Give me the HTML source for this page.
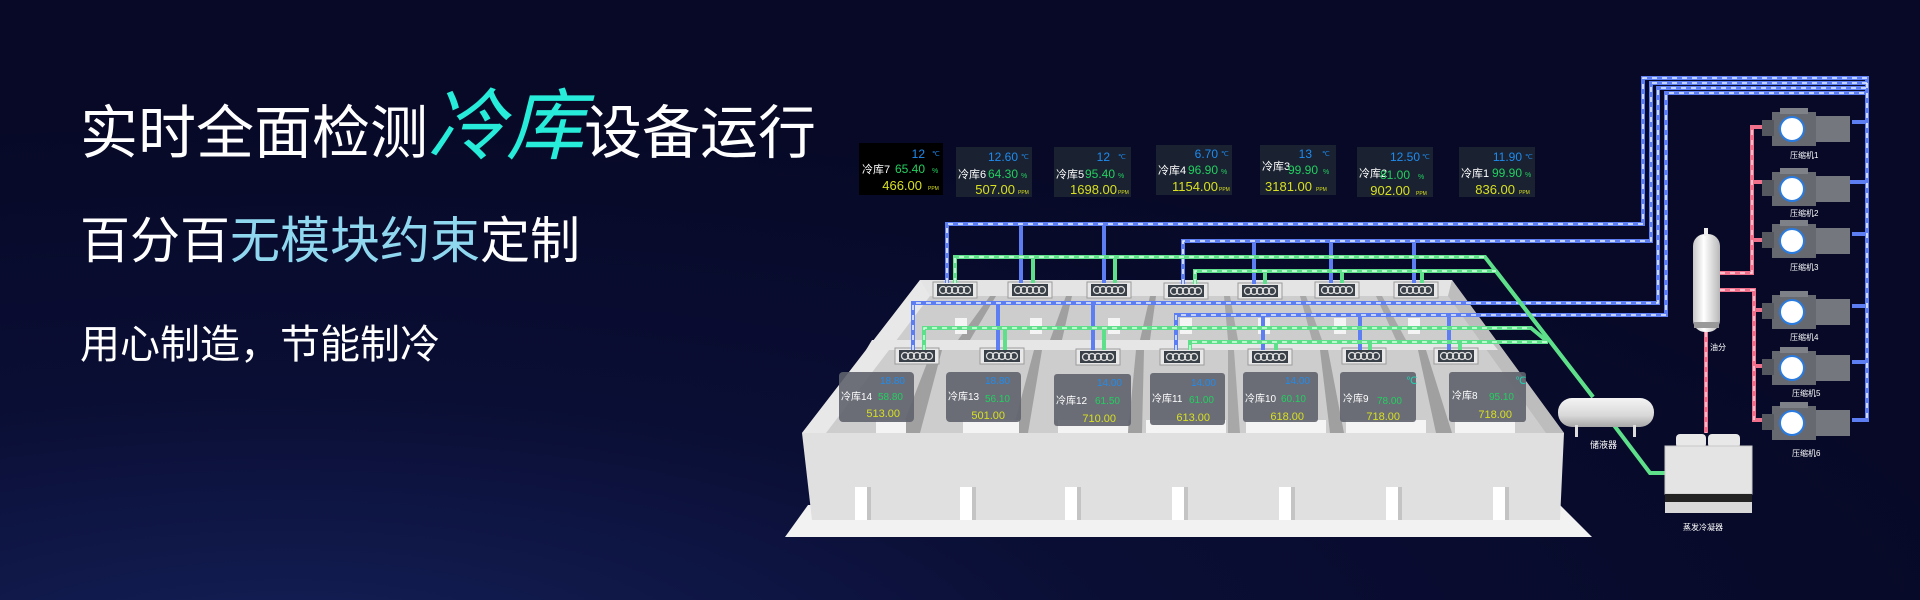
<!DOCTYPE html>
<html><head><meta charset="utf-8"><style>
html,body{margin:0;padding:0;width:1920px;height:600px;overflow:hidden;background:#080a2a;}
svg{display:block}
.t{font-family:"Liberation Sans","Noto Sans CJK SC",sans-serif;}
.m{font-family:"Liberation Sans Narrow","Liberation Sans",sans-serif;}
</style></head><body>
<svg width="1920" height="600" viewBox="0 0 1920 600" xmlns="http://www.w3.org/2000/svg">
<defs>
<radialGradient id="bg" cx="0.15" cy="1.1" r="0.9">
<stop offset="0" stop-color="#142058"/><stop offset="0.5" stop-color="#0a0e34"/><stop offset="1" stop-color="#070927"/>
</radialGradient>
<linearGradient id="tank" x1="0" y1="0" x2="0" y2="1"><stop offset="0" stop-color="#f4f4f4"/><stop offset="0.6" stop-color="#d8d8d8"/><stop offset="1" stop-color="#a8a8a8"/></linearGradient>
<linearGradient id="vtank" x1="0" y1="0" x2="1" y2="0"><stop offset="0" stop-color="#c8c8c8"/><stop offset="0.4" stop-color="#ffffff"/><stop offset="1" stop-color="#b8b8b8"/></linearGradient>
<g id="unit"><rect x="-22" y="-8" width="44" height="16" fill="#e8e8e8" stroke="#9a9a9a"/><rect x="-18" y="-6" width="36" height="12" fill="#3a4048"/>
<circle cx="-12" cy="0" r="3.5" fill="none" stroke="#ddd" stroke-width="1.3"/><circle cx="-6" cy="0" r="3.5" fill="none" stroke="#ddd" stroke-width="1.3"/><circle cx="0" cy="0" r="3.5" fill="none" stroke="#ddd" stroke-width="1.3"/><circle cx="6" cy="0" r="3.5" fill="none" stroke="#ddd" stroke-width="1.3"/><circle cx="12" cy="0" r="3.5" fill="none" stroke="#ddd" stroke-width="1.3"/></g>
<g id="comp"><rect x="-20" y="-16" width="44" height="34" fill="#66696f"/><rect x="24" y="-12" width="34" height="26" fill="#74777d"/><rect x="-30" y="-8" width="12" height="16" fill="#55585e"/><rect x="-12" y="-20" width="28" height="6" fill="#7e8188"/><circle cx="0" cy="1" r="12" fill="#ffffff" stroke="#2a7be0" stroke-width="2"/></g>
</defs>
<rect width="1920" height="600" fill="url(#bg)"/>

<!-- Title text -->
<text class="t" x="80" y="153" font-size="58" fill="#ffffff">实时全面检测<tspan fill="#26ecd9" font-size="78" font-style="italic">冷库</tspan>设备运行</text>
<text class="t" x="80" y="258" font-size="50" fill="#ffffff">百分百<tspan fill="#8fd6ef">无模块约束</tspan>定制</text>
<text class="t" x="80" y="358" font-size="40" fill="#ffffff">用心制造，节能制冷</text>

<!-- Top monitor panels -->
<g class="m">
<rect x="859" y="143" width="84" height="52" fill="#000"/>
<text class="t" x="862" y="173" font-size="11" fill="#fff">冷库7</text>
<text x="925" y="158" font-size="12" fill="#1e8cf0" text-anchor="end">12</text><text x="932" y="156" font-size="7" fill="#1e8cf0">℃</text>
<text x="925" y="173" font-size="12" fill="#22d060" text-anchor="end">65.40</text><text x="932" y="173" font-size="7" fill="#22d060">%</text>
<text x="922" y="190" font-size="13" fill="#d8e020" text-anchor="end">466.00</text><text x="928" y="190" font-size="5" fill="#d8e020">PPM</text>
</g>
<g class="m">
<rect x="956" y="147" width="76" height="50" fill="#1a2130"/>
<text class="t" x="958" y="178" font-size="11" fill="#fff">冷库6</text>
<text x="1018" y="161" font-size="12" fill="#1e8cf0" text-anchor="end">12.60</text><text x="1021" y="159" font-size="7" fill="#1e8cf0">℃</text>
<text x="1018" y="178" font-size="12" fill="#22d060" text-anchor="end">64.30</text><text x="1021" y="178" font-size="7" fill="#22d060">%</text>
<text x="1015" y="194" font-size="13" fill="#d8e020" text-anchor="end">507.00</text><text x="1018" y="194" font-size="5" fill="#d8e020">PPM</text>
</g>
<g class="m">
<rect x="1054" y="147" width="77" height="50" fill="#1a2130"/>
<text class="t" x="1056" y="178" font-size="11" fill="#fff">冷库5</text>
<text x="1110" y="161" font-size="12" fill="#1e8cf0" text-anchor="end">12</text><text x="1118" y="159" font-size="7" fill="#1e8cf0">℃</text>
<text x="1115" y="178" font-size="12" fill="#22d060" text-anchor="end">95.40</text><text x="1118" y="178" font-size="7" fill="#22d060">%</text>
<text x="1117" y="194" font-size="13" fill="#d8e020" text-anchor="end">1698.00</text><text x="1118" y="194" font-size="5" fill="#d8e020">PPM</text>
</g>
<g class="m">
<rect x="1156" y="145" width="76" height="50" fill="#1a2130"/>
<text class="t" x="1158" y="174" font-size="11" fill="#fff">冷库4</text>
<text x="1218" y="158" font-size="12" fill="#1e8cf0" text-anchor="end">6.70</text><text x="1221" y="156" font-size="7" fill="#1e8cf0">℃</text>
<text x="1218" y="174" font-size="12" fill="#22d060" text-anchor="end">96.90</text><text x="1221" y="174" font-size="7" fill="#22d060">%</text>
<text x="1218" y="191" font-size="13" fill="#d8e020" text-anchor="end">1154.00</text><text x="1219" y="191" font-size="5" fill="#d8e020">PPM</text>
</g>
<g class="m">
<rect x="1260" y="145" width="76" height="50" fill="#1a2130"/>
<text class="t" x="1262" y="170" font-size="11" fill="#fff">冷库3</text>
<text x="1312" y="158" font-size="12" fill="#1e8cf0" text-anchor="end">13</text><text x="1322" y="156" font-size="7" fill="#1e8cf0">℃</text>
<text x="1318" y="174" font-size="12" fill="#22d060" text-anchor="end">99.90</text><text x="1323" y="174" font-size="7" fill="#22d060">%</text>
<text x="1312" y="191" font-size="13" fill="#d8e020" text-anchor="end">3181.00</text><text x="1316" y="191" font-size="5" fill="#d8e020">PPM</text>
</g>
<g class="m">
<rect x="1357" y="147" width="76" height="50" fill="#1a2130"/>
<text class="t" x="1359" y="177" font-size="11" fill="#fff">冷库2</text>
<text x="1420" y="161" font-size="12" fill="#1e8cf0" text-anchor="end">12.50</text><text x="1422" y="159" font-size="7" fill="#1e8cf0">℃</text>
<text x="1410" y="179" font-size="12" fill="#22d060" text-anchor="end">81.00</text><text x="1418" y="179" font-size="7" fill="#22d060">%</text>
<text x="1410" y="195" font-size="13" fill="#d8e020" text-anchor="end">902.00</text><text x="1416" y="195" font-size="5" fill="#d8e020">PPM</text>
</g>
<g class="m">
<rect x="1459" y="147" width="76" height="50" fill="#1a2130"/>
<text class="t" x="1461" y="177" font-size="11" fill="#fff">冷库1</text>
<text x="1522" y="161" font-size="12" fill="#1e8cf0" text-anchor="end">11.90</text><text x="1525" y="159" font-size="7" fill="#1e8cf0">℃</text>
<text x="1522" y="177" font-size="12" fill="#22d060" text-anchor="end">99.90</text><text x="1525" y="177" font-size="7" fill="#22d060">%</text>
<text x="1515" y="194" font-size="13" fill="#d8e020" text-anchor="end">836.00</text><text x="1519" y="194" font-size="5" fill="#d8e020">PPM</text>
</g>

<!-- Building -->
<polygon points="808,505 1560,505 1592,537 785,537" fill="#f2f2f2"/>
<polygon points="920,280 1452,280 1564,433 802,433" fill="#cdcdcd"/>
<polygon points="920,280 1452,280 1448,296 924,296" fill="#e4e4e4"/>
<polygon points="920,280 930,296 826,433 802,433" fill="#e8e8e8"/>
<polygon points="1452,280 1448,296 1546,433 1564,433" fill="#bdbdbd"/>
<polygon points="990,296 996,296 970,340 958,340" fill="#a0a0a0"/>
<polygon points="1066,296 1072,296 1062,340 1050,340" fill="#a0a0a0"/>
<polygon points="1150,296 1156,296 1150,340 1140,340" fill="#a0a0a0"/>
<polygon points="1224,296 1230,296 1238,340 1228,340" fill="#a8a8a8"/>
<polygon points="1300,296 1306,296 1322,340 1312,340" fill="#a8a8a8"/>
<polygon points="1376,296 1382,296 1406,340 1396,340" fill="#a8a8a8"/>
<rect x="955" y="318" width="12" height="16" fill="#f4f4f4"/><rect x="1030" y="318" width="12" height="16" fill="#f4f4f4"/><rect x="1108" y="318" width="12" height="16" fill="#f4f4f4"/><rect x="1180" y="318" width="12" height="16" fill="#f4f4f4"/><rect x="1258" y="318" width="12" height="16" fill="#f4f4f4"/><rect x="1334" y="318" width="12" height="16" fill="#f4f4f4"/><rect x="1408" y="318" width="12" height="16" fill="#f4f4f4"/>
<polygon points="872,340 1490,340 1498,350 866,350" fill="#e6e6e6"/>
<polygon points="932,350 942,350 920,433 900,433" fill="#a0a0a0"/>
<polygon points="1034,350 1042,350 1028,433 1012,433" fill="#a0a0a0"/>
<polygon points="1136,350 1144,350 1142,433 1128,433" fill="#a0a0a0"/>
<polygon points="1228,350 1234,350 1240,433 1228,433" fill="#a8a8a8"/>
<polygon points="1320,350 1328,350 1344,433 1330,433" fill="#a0a0a0"/>
<polygon points="1418,350 1426,350 1452,433 1436,433" fill="#a0a0a0"/>
<rect x="876" y="420" width="30" height="13" fill="#f4f4f4"/><rect x="963" y="420" width="56" height="13" fill="#f4f4f4"/><rect x="1058" y="420" width="70" height="13" fill="#f4f4f4"/><rect x="1146" y="420" width="80" height="13" fill="#f4f4f4"/><rect x="1246" y="420" width="80" height="13" fill="#f4f4f4"/><rect x="1346" y="420" width="80" height="13" fill="#f4f4f4"/><rect x="1455" y="420" width="60" height="13" fill="#f4f4f4"/>
<polygon points="802,433 1564,433 1560,520 812,520" fill="#e0e0e0"/>
<g fill="#ffffff"><rect x="855" y="487" width="12" height="33"/><rect x="960" y="487" width="12" height="33"/><rect x="1065" y="487" width="12" height="33"/><rect x="1172" y="487" width="12" height="33"/><rect x="1279" y="487" width="12" height="33"/><rect x="1386" y="487" width="12" height="33"/><rect x="1493" y="487" width="12" height="33"/></g>
<g fill="#c4c4c4"><rect x="867" y="487" width="4" height="33"/><rect x="972" y="487" width="4" height="33"/><rect x="1077" y="487" width="4" height="33"/><rect x="1184" y="487" width="4" height="33"/><rect x="1291" y="487" width="4" height="33"/><rect x="1398" y="487" width="4" height="33"/><rect x="1505" y="487" width="4" height="33"/></g>

<use href="#unit" x="955" y="290"/><use href="#unit" x="1030" y="290"/><use href="#unit" x="1109" y="290"/><use href="#unit" x="1186" y="291"/><use href="#unit" x="1260" y="291"/><use href="#unit" x="1337" y="290"/><use href="#unit" x="1416" y="290"/>
<use href="#unit" x="917" y="356"/><use href="#unit" x="1002" y="356"/><use href="#unit" x="1098" y="357"/><use href="#unit" x="1182" y="357"/><use href="#unit" x="1270" y="357"/><use href="#unit" x="1364" y="356"/><use href="#unit" x="1456" y="356"/>

<!-- front panels -->
<g class="m">
<rect x="839" y="372" width="75" height="50" rx="4" fill="#5f636d" opacity="0.9"/>
<text class="t" x="841" y="400" font-size="10" fill="#fff">冷库14</text><text x="905" y="384" font-size="10" fill="#1e8cf0" text-anchor="end">18.80</text><text x="903" y="400" font-size="10" fill="#22d060" text-anchor="end">58.80</text><text x="900" y="417" font-size="11" fill="#d8e020" text-anchor="end">513.00</text>
<rect x="946" y="372" width="75" height="50" rx="4" fill="#5f636d" opacity="0.9"/>
<text class="t" x="948" y="400" font-size="10" fill="#fff">冷库13</text><text x="1010" y="384" font-size="10" fill="#1e8cf0" text-anchor="end">18.80</text><text x="1010" y="402" font-size="10" fill="#22d060" text-anchor="end">56.10</text><text x="1005" y="419" font-size="11" fill="#d8e020" text-anchor="end">501.00</text>
<rect x="1054" y="374" width="77" height="52" rx="3" fill="#5f636d" opacity="0.9"/>
<text class="t" x="1056" y="404" font-size="10" fill="#fff">冷库12</text><text x="1122" y="386" font-size="10" fill="#1e8cf0" text-anchor="end">14.00</text><text x="1120" y="404" font-size="10" fill="#22d060" text-anchor="end">61.50</text><text x="1116" y="422" font-size="11" fill="#d8e020" text-anchor="end">710.00</text>
<rect x="1150" y="373" width="75" height="52" rx="3" fill="#5f636d" opacity="0.9"/>
<text class="t" x="1152" y="402" font-size="10" fill="#fff">冷库11</text><text x="1216" y="386" font-size="10" fill="#1e8cf0" text-anchor="end">14.00</text><text x="1214" y="403" font-size="10" fill="#22d060" text-anchor="end">61.00</text><text x="1210" y="421" font-size="11" fill="#d8e020" text-anchor="end">613.00</text>
<rect x="1243" y="372" width="75" height="50" rx="3" fill="#5f636d" opacity="0.9"/>
<text class="t" x="1245" y="402" font-size="10" fill="#fff">冷库10</text><text x="1310" y="384" font-size="10" fill="#1e8cf0" text-anchor="end">14.00</text><text x="1306" y="402" font-size="10" fill="#22d060" text-anchor="end">60.10</text><text x="1304" y="420" font-size="11" fill="#d8e020" text-anchor="end">618.00</text>
<rect x="1340" y="372" width="76" height="50" rx="3" fill="#5f636d" opacity="0.9"/>
<text class="t" x="1343" y="402" font-size="10" fill="#fff">冷库9</text><text x="1406" y="384" font-size="10" fill="#22d0b0">℃</text><text x="1402" y="404" font-size="10" fill="#22d060" text-anchor="end">78.00</text><text x="1400" y="420" font-size="11" fill="#d8e020" text-anchor="end">718.00</text>
<rect x="1449" y="372" width="77" height="50" rx="3" fill="#5f636d" opacity="0.9"/>
<text class="t" x="1452" y="399" font-size="10" fill="#fff">冷库8</text><text x="1515" y="384" font-size="10" fill="#22d0b0">℃</text><text x="1514" y="400" font-size="10" fill="#22d060" text-anchor="end">95.10</text><text x="1512" y="418" font-size="11" fill="#d8e020" text-anchor="end">718.00</text>
</g>

<!-- Pipes -->
<g fill="none" stroke-linejoin="miter">
<g stroke="#5c7ef2" stroke-width="4">
<polyline points="947,283 947,224 1643,224 1643,78 1867,78 1867,422"/>
<line x1="1021" y1="224" x2="1021" y2="283"/><line x1="1104" y1="224" x2="1104" y2="283"/>
<polyline points="1183,284 1183,241 1651,241 1651,83 1867,83"/>
<line x1="1254" y1="241" x2="1254" y2="284"/><line x1="1331" y1="241" x2="1331" y2="283"/><line x1="1414" y1="241" x2="1414" y2="283"/>
<polyline points="913,350 913,303 1658,303 1658,88 1867,88"/>
<line x1="998" y1="303" x2="998" y2="350"/><line x1="1093" y1="303" x2="1093" y2="350"/>
<polyline points="1176,350 1176,315 1666,315 1666,93 1867,93"/>
<line x1="1263" y1="315" x2="1263" y2="350"/><line x1="1360" y1="315" x2="1360" y2="350"/><line x1="1449" y1="315" x2="1449" y2="350"/>
<line x1="1852" y1="122" x2="1867" y2="122"/><line x1="1850" y1="182" x2="1867" y2="182"/><line x1="1852" y1="234" x2="1867" y2="234"/><line x1="1852" y1="306" x2="1867" y2="306"/><line x1="1852" y1="362" x2="1867" y2="362"/><line x1="1852" y1="420" x2="1867" y2="420"/>
</g>
<g stroke="#e8f0ff" stroke-width="1.6" stroke-dasharray="5 5">
<polyline points="947,283 947,224 1643,224 1643,78 1867,78 1867,422"/>
<polyline points="1183,284 1183,241 1651,241 1651,83 1867,83"/>
<polyline points="913,350 913,303 1658,303 1658,88 1867,88"/>
<polyline points="1176,350 1176,315 1666,315 1666,93 1867,93"/>
</g>
<g stroke="#5ee08a" stroke-width="4">
<polyline points="955,283 955,257 1485,257 1593,397"/>
<line x1="1033" y1="257" x2="1033" y2="283"/><line x1="1115" y1="257" x2="1115" y2="283"/>
<polyline points="1195,284 1195,271 1496,271 1593,397"/>
<line x1="1265" y1="271" x2="1265" y2="284"/><line x1="1342" y1="271" x2="1342" y2="283"/><line x1="1422" y1="271" x2="1422" y2="283"/>
<polyline points="924,350 924,328 1531,328 1548,342"/>
<line x1="1005" y1="328" x2="1005" y2="350"/><line x1="1104" y1="328" x2="1104" y2="350"/>
<polyline points="1190,350 1190,342 1548,342"/>
<line x1="1276" y1="342" x2="1276" y2="350"/><line x1="1370" y1="342" x2="1370" y2="350"/><line x1="1460" y1="342" x2="1460" y2="350"/>
<polyline points="1610,420 1650,473 1665,473"/>
</g>
<g stroke="#d8ffe4" stroke-width="1.5" stroke-dasharray="5 5">
<polyline points="955,283 955,257 1485,257"/><polyline points="1195,284 1195,271 1496,271"/><polyline points="924,350 924,328 1531,328"/><polyline points="1190,350 1190,342 1548,342"/>
</g>
<g stroke="#f0708c" stroke-width="4">
<polyline points="1720,273 1752,273 1752,127 1765,127"/>
<line x1="1752" y1="182" x2="1762" y2="182"/><line x1="1752" y1="240" x2="1762" y2="240"/>
<polyline points="1720,290 1754,290 1754,420 1766,420"/>
<line x1="1754" y1="310" x2="1764" y2="310"/><line x1="1754" y1="366" x2="1766" y2="366"/>
<line x1="1706" y1="332" x2="1706" y2="433"/>
</g>
<g stroke="#ffd8e0" stroke-width="1.5" stroke-dasharray="5 5">
<polyline points="1720,273 1752,273 1752,127"/><polyline points="1720,290 1754,290 1754,420"/><line x1="1706" y1="332" x2="1706" y2="433"/>
</g>
</g>

<rect x="1558" y="398" width="96" height="29" rx="14" fill="url(#tank)"/>
<rect x="1575" y="425" width="3" height="12" fill="#ddd"/><rect x="1633" y="425" width="3" height="12" fill="#ddd"/>
<text class="t" x="1590" y="448" font-size="9" fill="#fff">储液器</text>
<rect x="1693" y="234" width="27" height="98" rx="12" fill="url(#vtank)"/>
<rect x="1704" y="228" width="4" height="8" fill="#eee"/>
<rect x="1694" y="322" width="25" height="6" fill="#999"/>
<text class="t" x="1710" y="350" font-size="8" fill="#fff">油分</text>
<rect x="1676" y="434" width="30" height="14" rx="4" fill="#e8e8e8"/><rect x="1708" y="434" width="32" height="14" rx="4" fill="#e8e8e8"/>
<rect x="1665" y="446" width="87" height="48" fill="#e4e4e4" stroke="#c8c8c8"/>
<rect x="1665" y="494" width="87" height="8" fill="#222"/>
<rect x="1665" y="502" width="87" height="11" fill="#d8d8d8"/>
<text class="t" x="1683" y="530" font-size="8" fill="#fff">蒸发冷凝器</text>
<use href="#comp" x="1792" y="128"/><text class="t" x="1790" y="158" font-size="8" fill="#fff">压缩机1</text>
<use href="#comp" x="1792" y="188"/><text class="t" x="1790" y="216" font-size="8" fill="#fff">压缩机2</text>
<use href="#comp" x="1792" y="240"/><text class="t" x="1790" y="270" font-size="8" fill="#fff">压缩机3</text>
<use href="#comp" x="1792" y="311"/><text class="t" x="1790" y="340" font-size="8" fill="#fff">压缩机4</text>
<use href="#comp" x="1792" y="367"/><text class="t" x="1792" y="396" font-size="8" fill="#fff">压缩机5</text>
<use href="#comp" x="1792" y="422"/><text class="t" x="1792" y="456" font-size="8" fill="#fff">压缩机6</text>
</svg>
</body></html>
